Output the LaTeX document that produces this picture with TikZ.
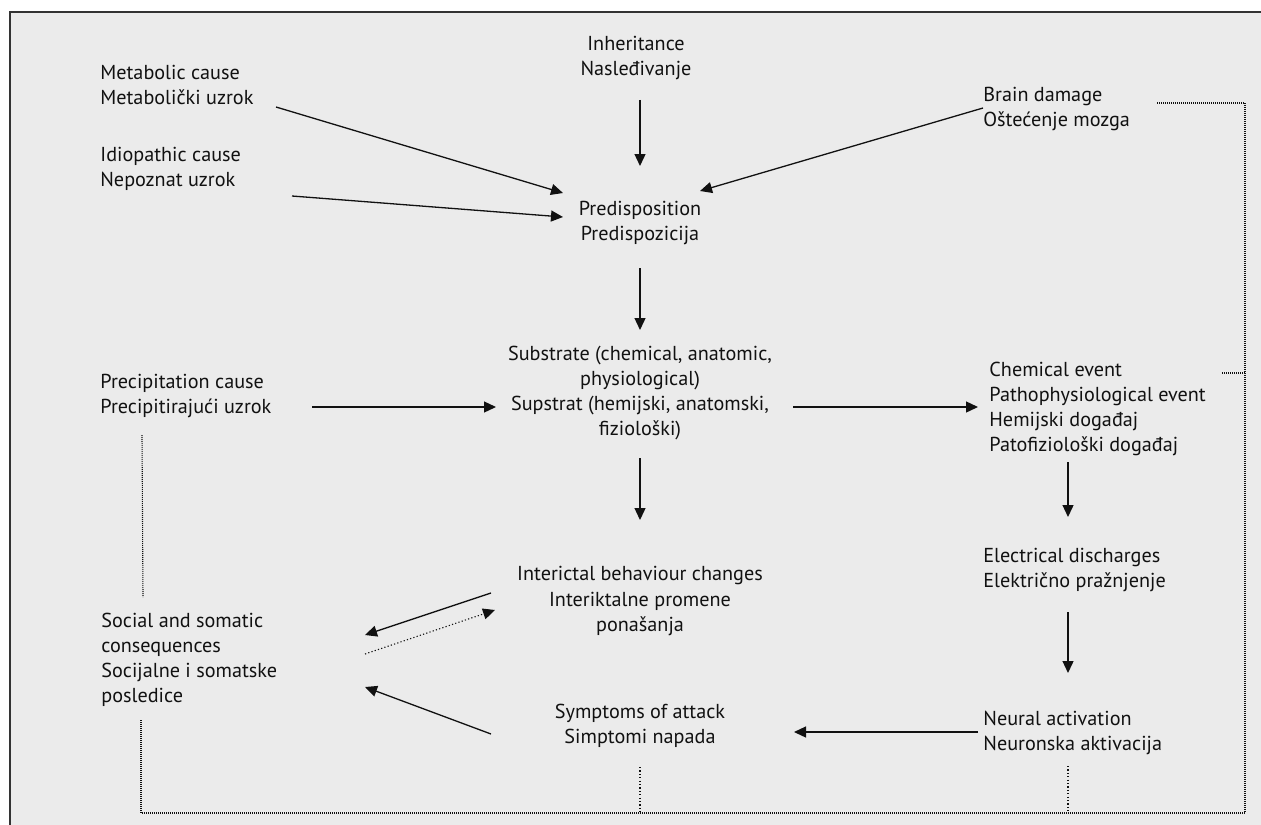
\documentclass[tikz,border=0pt]{standalone}
\usepackage{fontspec}
\setmainfont{PT Sans}
\usetikzlibrary{arrows.meta,calc}
\definecolor{bg}{HTML}{EBEBEB}
\definecolor{ink}{HTML}{111111}
\tikzset{
  lbl/.style={inner sep=0pt, font=\fontsize{10.1pt}{12.6pt}\selectfont, text=ink},
  lft/.style={lbl, anchor=west, align=left},
  ctr/.style={lbl, anchor=center, align=center},
  arr/.style={draw=ink, line width=0.65pt, -{Triangle[length=6pt,width=5.5pt]}},
  dot/.style={draw=ink, line width=0.55pt, dash pattern=on 0.5pt off 0.5pt},
  dotl/.style={draw=ink, line width=0.55pt, dash pattern=on 0.6pt off 1.1pt}
}
\begin{document}
\begin{tikzpicture}[x=0.5pt,y=-0.5pt]
\useasboundingbox (0,0) rectangle (1261,824);
\begin{scope}
\clip (0,0) rectangle (1261,824);
\fill[bg] (10,12) rectangle (1300,900);
\draw[draw=black!80, line width=0.8pt] (10,900) -- (10,12) -- (1300,12);
\end{scope}

% nodes
\node[ctr] (inh) at (636,58) {Inheritance\\Nasleđivanje};
\node[lft] (meta) at (100,85) {Metabolic cause\\Metabolički uzrok};
\node[lft] (idio) at (100,169) {Idiopathic cause\\Nepoznat uzrok};
\node[lft] (brain) at (983,109) {Brain damage\\Oštećenje mozga};
\node[ctr] (pred) at (640,223) {Predisposition\\Predispozicija};
\node[ctr] (subs) at (640,393) {Substrate (chemical, anatomic,\\physiological)\\Supstrat (hemijski, anatomski,\\fiziološki)};
\node[lft] (prec) at (100,396) {Precipitation cause\\Precipitirajući uzrok};
\node[lft] (chem) at (989,409) {Chemical event\\Pathophysiological event\\Hemijski događaj\\Patofiziološki događaj};
\node[lft] (elec) at (983,570) {Electrical discharges\\Električno pražnjenje};
\node[ctr] (inter) at (640,601) {Interictal behaviour changes\\Interiktalne promene\\ponašanja};
\node[lft] (soc) at (101,660) {Social and somatic\\consequences\\Socijalne i somatske\\posledice};
\node[ctr] (symp) at (640,726) {Symptoms of attack\\Simptomi napada};
\node[lft] (neur) at (983,733) {Neural activation\\Neuronska aktivacija};

% solid arrows
\draw[arr] ($(inh.center)+(4,42)$) -- ($(pred.center)+(0,-57)$);
\draw[arr] ($(meta.west)+(176,22)$) -- ($(pred.center)+(-77,-30)$);
\draw[arr] ($(idio.west)+(192,27)$) -- ($(pred.center)+(-77,-6)$);
\draw[arr] ($(brain.west)+(0,-1)$) -- ($(pred.center)+(60,-32)$);
\draw[arr] ($(pred.center)+(0,45)$) -- ($(subs.center)+(0,-63)$);
\draw[arr] ($(prec.west)+(212,11)$) -- ($(subs.center)+(-144,14)$);
\draw[arr] ($(subs.center)+(153,14)$) -- ($(chem.west)+(-11,-2)$);
\draw[arr] ($(chem.west)+(79,53)$) -- ($(elec.west)+(85,-53)$);
\draw[arr] ($(elec.west)+(85,42)$) -- ($(neur.west)+(85,-60)$);
\draw[arr] ($(neur.west)+(-5,-1)$) -- ($(symp.center)+(154,6)$);
\draw[arr] ($(subs.center)+(0,65)$) -- ($(inter.center)+(0,-81)$);
\draw[arr] ($(inter.center)+(-149,-8)$) -- ($(soc.west)+(264,-25)$);
\draw[arr] ($(symp.center)+(-149,8)$) -- ($(soc.west)+(264,27)$);
\draw[arr, dotl] ($(soc.west)+(264,-6)$) -- ($(inter.center)+(-145,9)$);

% dotted feedback lines
\draw[dot] ($(brain.west)+(174,-6)$) -- (1245,103) -- (1245,813) -- (141,813) -- ($(soc.west)+(40,60)$);
\draw[dot] ($(chem.west)+(233,-36)$) -- (1245,373);
\draw[dot] ($(prec.west)+(42,39)$) -- ($(soc.west)+(42,-63)$);
\draw[dotl] ($(symp.center)+(0,41)$) -- (640,813);
\draw[dotl] ($(neur.west)+(85,33)$) -- (1068,813);
\end{tikzpicture}
\end{document}
